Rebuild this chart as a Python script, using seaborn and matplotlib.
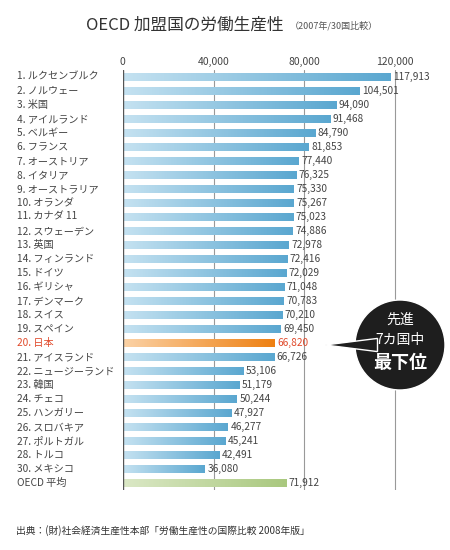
import matplotlib
matplotlib.use("Agg")
import matplotlib.pyplot as plt
import seaborn as sns
import numpy as np
import pandas as pd
from matplotlib.patches import Polygon, Ellipse
from matplotlib.colors import LinearSegmentedColormap

sns.set_theme(style="white")
plt.rcParams['font.family'] = ['Noto Sans CJK JP', 'DejaVu Sans']

labels = ["1. ルクセンブルク","2. ノルウェー","3. 米国","4. アイルランド","5. ベルギー","6. フランス",
          "7. オーストリア","8. イタリア","9. オーストラリア","10. オランダ","11. カナダ 11","12. スウェーデン",
          "13. 英国","14. フィンランド","15. ドイツ","16. ギリシャ","17. デンマーク","18. スイス","19. スペイン",
          "20. 日本","21. アイスランド","22. ニュージーランド","23. 韓国","24. チェコ","25. ハンガリー",
          "26. スロバキア","27. ポルトガル","28. トルコ","30. メキシコ","OECD 平均"]
values = [117913,104501,94090,91468,84790,81853,77440,76325,75330,75267,75023,74886,72978,72416,72029,
          71048,70783,70210,69450,66820,66726,53106,51179,50244,47927,46277,45241,42491,36080,71912]
kind = ["blue"]*19 + ["japan"] + ["blue"]*9 + ["oecd"]

df = pd.DataFrame({"label": labels, "value": values, "kind": kind})
pal = {"blue": "#6fb3d6", "japan": "#f0922c", "oecd": "#b5cf8f"}
grad = {"blue": ("#c5e2f1", "#5aa7d0"), "japan": ("#fbd2a6", "#ee8012"), "oecd": ("#dbe8c6", "#a9c87e")}

fig = plt.figure(figsize=(4.5, 5.5), dpi=100)
fig.patch.set_facecolor("white")
ax = fig.add_axes([0.273, 0.109, 0.655, 0.764])
sns.barplot(data=df, x="value", y="label", hue="kind", palette=pal, dodge=False,
            legend=False, ax=ax, width=0.62, orient="h")
ax.set_xlim(0, 130000)
ax.set_ylim(len(labels) - 0.5, -0.5)

for p, k in zip(sorted(ax.patches, key=lambda p: p.get_y()), kind):
    x0, y0, w, h = p.get_x(), p.get_y(), p.get_width(), p.get_height()
    cm = LinearSegmentedColormap.from_list("g", grad[k])
    im = ax.imshow(np.linspace(0, 1, 256).reshape(1, -1), cmap=cm, aspect="auto",
                   extent=(x0, x0 + w, y0 + h, y0), zorder=3)
    im.set_clip_path(p)
ax.set_xlim(0, 130000)
ax.set_ylim(len(labels) - 0.5, -0.5)

for xv in [40000, 80000, 120000]:
    ax.axvline(xv, color="#999999", lw=0.8, zorder=1)
ax.axvline(0, color="#555555", lw=1, zorder=4)
for s in ax.spines.values():
    s.set_visible(False)
ax.xaxis.tick_top()
ax.set_xticks([0, 40000, 80000, 120000])
ax.set_xticklabels(["0", "40,000", "80,000", "120,000"], fontsize=7.5, color="#444444")
ax.tick_params(axis="x", length=0, pad=2)
ax.set_xlabel(""); ax.set_ylabel("")
ax.set_yticks(range(len(labels)))
ax.set_yticklabels([])
ax.tick_params(axis="y", length=0)
for i, (lab, v, k) in enumerate(zip(labels, values, kind)):
    col = "#e0492a" if k == "japan" else "#444444"
    ax.text(-0.36, i, lab, transform=ax.get_yaxis_transform(), fontsize=7.3, color=col,
            va="center", ha="left")
    ax.text(v + 1200, i, f"{v:,}", fontsize=7.3, color=col, va="center", ha="left")

fig.text(0.63, 0.955, "OECD 加盟国の労働生産性", fontsize=12, ha="right", va="center", color="#333333")
fig.text(0.645, 0.953, "（2007年/30国比較）", fontsize=6.5, ha="left", va="center", color="#555555")
fig.text(0.035, 0.035, "出典：(財)社会経済生産性本部「労働生産性の国際比較 2008年版」", fontsize=7,
         ha="left", va="center", color="#333333")

cx, cy, r = 400 / 450, 1 - 345 / 550, 45 / 450
aspect = 450 / 550
ell = Ellipse((cx, cy), 2 * r, 2 * r * aspect, transform=fig.transFigure,
              facecolor="#1e1e1e", zorder=10)
fig.patches.append(ell)
tri = Polygon([(325 / 450, cy), (cx - 0.05, cy + 0.012), (cx - 0.05, cy - 0.012)],
              closed=True, transform=fig.transFigure, facecolor="#1e1e1e", zorder=10)
fig.patches.append(tri)
fig.text(cx, 1 - 320 / 550, "先進", color="white", fontsize=10, ha="center", va="center", zorder=11)
fig.text(cx, 1 - 340 / 550, "7カ国中", color="white", fontsize=10, ha="center", va="center", zorder=11)
fig.text(cx, 1 - 362 / 550, "最下位", color="white", fontsize=13, fontweight="bold",
         ha="center", va="center", zorder=11)

fig.savefig("out.png", dpi=100, facecolor="white")
